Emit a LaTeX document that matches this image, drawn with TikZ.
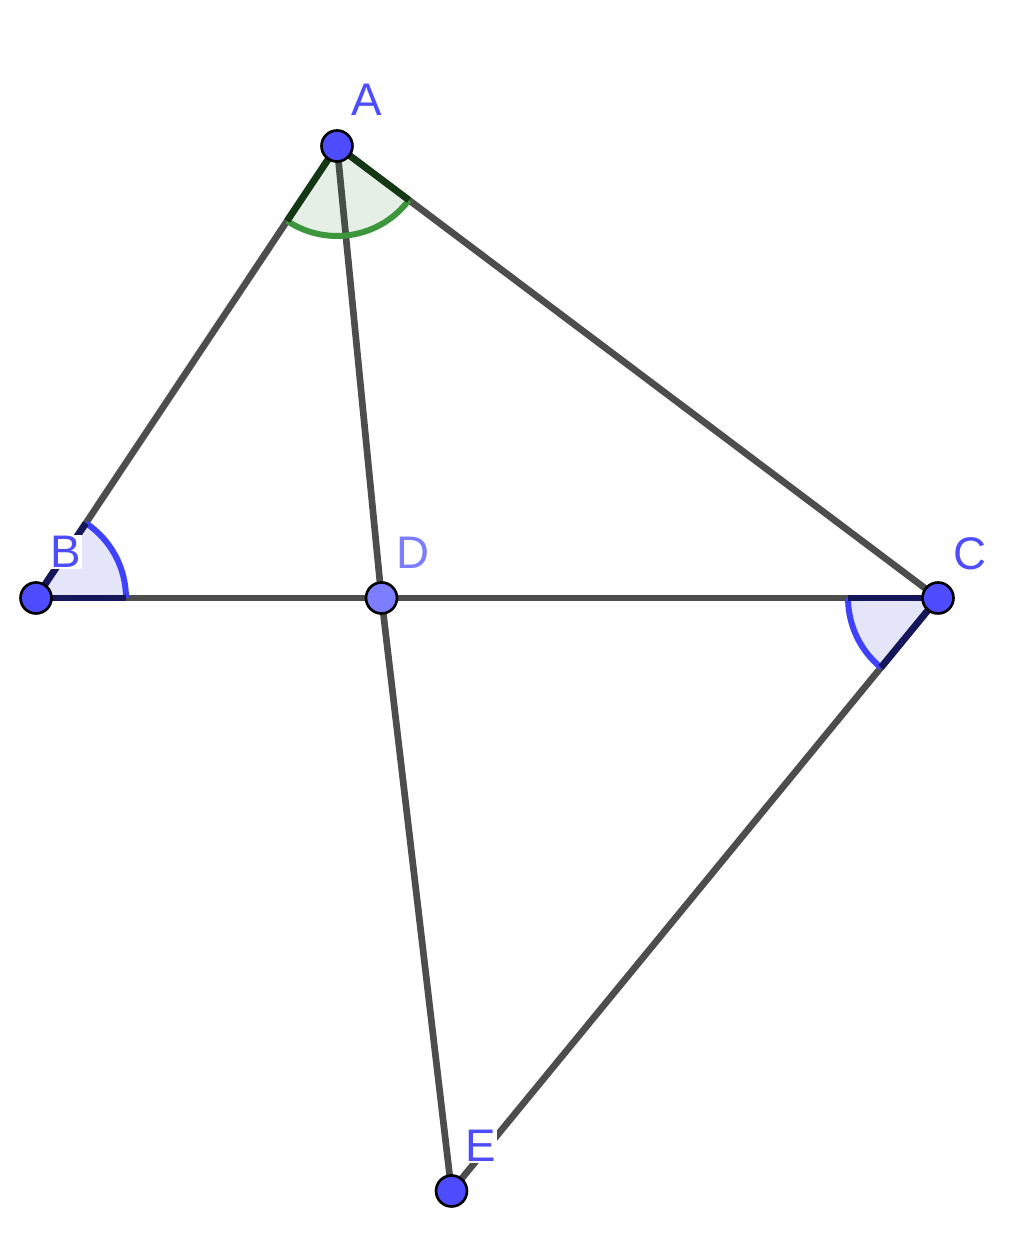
\documentclass[tikz,border=0pt]{standalone}
\usepackage{fontspec}
\setsansfont{Liberation Sans}
\usetikzlibrary{angles, calc}
\definecolor{ggblue}{RGB}{77,77,255}
\definecolor{ggpale}{RGB}{125,125,255}
\definecolor{seggray}{RGB}{77,77,77}
\definecolor{arcgreen}{RGB}{60,150,60}
\definecolor{edgegreen}{RGB}{20,55,20}
\definecolor{arcblue}{RGB}{64,64,255}
\definecolor{edgeblue}{RGB}{22,22,90}
\tikzstyle{point} = [circle, draw=black, line width=1.5pt, fill=ggblue,
    minimum size=0.62cm, inner sep=0pt]
\tikzstyle{lbl} = [text=ggblue, font=\sffamily\fontsize{26}{30}\selectfont,
    fill=white, inner sep=0.5pt]

\begin{document}
\begin{tikzpicture}[
x = 0.02cm, y = 0.02cm,
seg/.style = {draw=seggray, line width=3.8pt},
greenangle/.style = {draw=arcgreen, fill=green!40!black, fill opacity=0.1,
    line width=3.4pt, angle radius=1.8cm},
blueangle/.style = {draw=arcblue, fill=blue!80!black, fill opacity=0.1,
    line width=3.4pt, angle radius=1.8cm},
greenedge/.style = {draw=edgegreen, line width=3.8pt},
blueedge/.style = {draw=edgeblue, line width=3.8pt}
                    ]
\useasboundingbox[fill=white] (0,0) rectangle (1024,1255);
% points
\coordinate (A) at (337,1109);
\coordinate (B) at (36,657);
\coordinate (C) at (938,657);
\coordinate (D) at (381.5,657);
\coordinate (E) at (451.5,64);
% segments
\draw[seg] (A) -- (B);
\draw[seg] (A) -- (C);
\draw[seg] (B) -- (C);
\draw[seg] (A) -- (D);
\draw[seg] (D) -- (E);
\draw[seg] (C) -- (E);
% angles
\pic[greenangle] {angle = B--A--C};
\pic[blueangle] {angle = C--B--A};
\pic[blueangle] {angle = B--C--E};
\draw[greenedge] (A) -- ($(A)!1.8cm!(B)$);
\draw[greenedge] (A) -- ($(A)!1.8cm!(C)$);
\draw[blueedge] (B) -- ($(B)!1.8cm!(C)$);
\draw[blueedge] (B) -- ($(B)!1.8cm!(A)$);
\draw[blueedge] (C) -- ($(C)!1.8cm!(B)$);
\draw[blueedge] (C) -- ($(C)!1.8cm!(E)$);
% dots
\node[point] (pA) at (A) {};
\node[point] (pB) at (B) {};
\node[point] (pC) at (C) {};
\node[point, fill=ggpale] (pD) at (D) {};
\node[point] (pE) at (E) {};
% labels
\node[lbl] (lA) at (367,1155) {A};
\node[lbl] (lB) at (66,703) {B};
\node[lbl, text=ggpale] (lD) at (413,702) {D};
\node[lbl] (lC) at (970,701) {C};
\node[lbl] (lE) at (481,109) {E};
\end{tikzpicture}
\end{document}
